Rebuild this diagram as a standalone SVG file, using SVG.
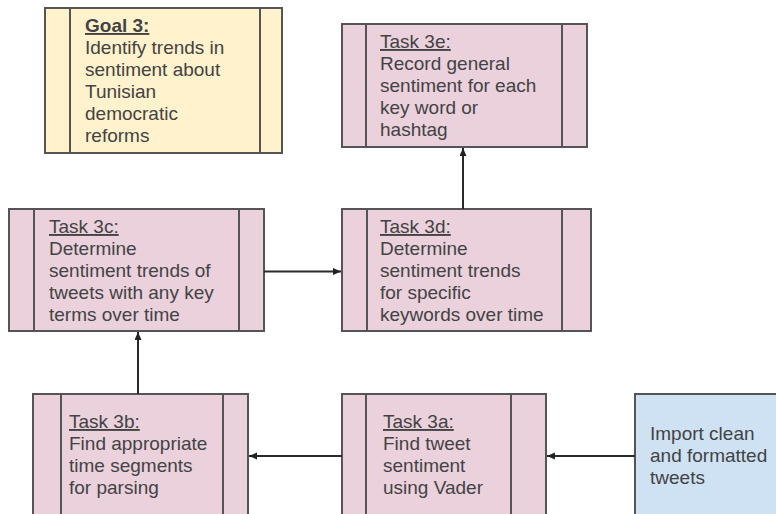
<svg xmlns="http://www.w3.org/2000/svg" width="776" height="514" viewBox="0 0 776 514">
<defs>
<marker id="arr" markerUnits="userSpaceOnUse" markerWidth="10" markerHeight="10" refX="8" refY="3.5" orient="auto">
<path d="M0,0 L8,3.5 L0,7 z" fill="#222"/>
</marker>
<style>
.box{stroke:#555;stroke-width:2}
.goal{fill:#fff2cc}
.task{fill:#ead1dc}
.src{fill:#cfe2f3}
.div{stroke:#555;stroke-width:2;fill:none}
text{font-family:"Liberation Sans",Arial,sans-serif;font-size:19px;fill:#434343}
.h{text-decoration:underline}
.hb{text-decoration:underline;font-weight:bold}
.c{stroke:#2a2a2a;stroke-width:2;fill:none;marker-end:url(#arr)}
</style>
</defs>
<rect width="776" height="514" fill="#fff"/>
<g id="goal3">
<rect class="box goal" x="45" y="8" width="237" height="145"/>
<line class="div" x1="70" y1="8" x2="70" y2="153"/>
<line class="div" x1="260" y1="8" x2="260" y2="153"/>
<text x="85" y="32"><tspan class="hb">Goal 3:</tspan><tspan x="85" y="54">Identify trends in</tspan><tspan x="85" y="76">sentiment about</tspan><tspan x="85" y="98">Tunisian</tspan><tspan x="85" y="120">democratic</tspan><tspan x="85" y="142">reforms</tspan></text>
</g>
<g id="task3e">
<rect class="box task" x="342" y="24" width="245" height="123"/>
<line class="div" x1="366" y1="24" x2="366" y2="147"/>
<line class="div" x1="562" y1="24" x2="562" y2="147"/>
<text x="380" y="48"><tspan class="h">Task 3e:</tspan><tspan x="380" y="70">Record general</tspan><tspan x="380" y="92">sentiment for each</tspan><tspan x="380" y="114">key word or</tspan><tspan x="380" y="136">hashtag</tspan></text>
</g>
<g id="task3c">
<rect class="box task" x="9" y="209" width="255" height="122"/>
<line class="div" x1="34" y1="209" x2="34" y2="331"/>
<line class="div" x1="239" y1="209" x2="239" y2="331"/>
<text x="49" y="233"><tspan class="h">Task 3c:</tspan><tspan x="49" y="255">Determine</tspan><tspan x="49" y="277">sentiment trends of</tspan><tspan x="49" y="299">tweets with any key</tspan><tspan x="49" y="321">terms over time</tspan></text>
</g>
<g id="task3d">
<rect class="box task" x="342" y="209" width="249" height="122"/>
<line class="div" x1="367" y1="209" x2="367" y2="331"/>
<line class="div" x1="562" y1="209" x2="562" y2="331"/>
<text x="380" y="233"><tspan class="h">Task 3d:</tspan><tspan x="380" y="255">Determine</tspan><tspan x="380" y="277">sentiment trends</tspan><tspan x="380" y="299">for specific</tspan><tspan x="380" y="321">keywords over time</tspan></text>
</g>
<g id="task3b">
<rect class="box task" x="33" y="394" width="215" height="135"/>
<line class="div" x1="61" y1="394" x2="61" y2="529"/>
<line class="div" x1="223" y1="394" x2="223" y2="529"/>
<text x="69" y="428"><tspan class="h">Task 3b:</tspan><tspan x="69" y="450">Find appropriate</tspan><tspan x="69" y="472">time segments</tspan><tspan x="69" y="494">for parsing</tspan></text>
</g>
<g id="task3a">
<rect class="box task" x="342" y="394" width="204" height="135"/>
<line class="div" x1="366" y1="394" x2="366" y2="529"/>
<line class="div" x1="511" y1="394" x2="511" y2="529"/>
<text x="383" y="428"><tspan class="h">Task 3a:</tspan><tspan x="383" y="450">Find tweet</tspan><tspan x="383" y="472">sentiment</tspan><tspan x="383" y="494">using Vader</tspan></text>
</g>
<g id="import">
<rect class="box src" x="635" y="394" width="160" height="135"/>
<text x="650" y="440">Import clean<tspan x="650" y="462">and formatted</tspan><tspan x="650" y="484">tweets</tspan></text>
</g>
<g id="connectors">
<line class="c" x1="463" y1="209" x2="463" y2="148"/>
<line class="c" x1="264" y1="271.5" x2="341" y2="271.5"/>
<line class="c" x1="138" y1="394" x2="138" y2="332"/>
<line class="c" x1="342" y1="456" x2="249" y2="456"/>
<line class="c" x1="635" y1="456" x2="547" y2="456"/>
</g>
</svg>
